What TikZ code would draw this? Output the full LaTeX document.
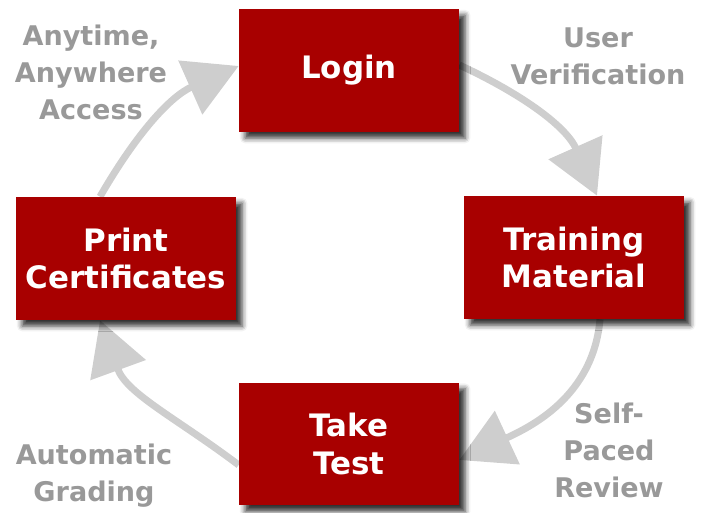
\documentclass[tikz,border=0pt]{standalone}
\usepackage{fontspec}
\setmainfont{DejaVu Sans}
\usetikzlibrary{arrows.meta,shadows.blur,backgrounds}
\definecolor{boxred}{RGB}{168,0,0}
\definecolor{arrowgray}{RGB}{206,206,206}
\definecolor{labelgray}{RGB}{153,153,153}

\begin{document}
\begin{tikzpicture}[x=0.02cm,y=0.02cm,
		box/.style={rectangle,fill=boxred,text=white,minimum width=4.4cm,minimum height=2.46cm,align=center,
			font=\fontsize{17.6}{21.6}\selectfont\bfseries,
			blur shadow={shadow xshift=3.5pt,shadow yshift=-3.5pt,shadow blur radius=3pt,shadow opacity=80}},
		lbl/.style={text=labelgray,align=center,font=\fontsize{15.4}{21}\selectfont\bfseries},
		flow/.style={draw=arrowgray,line width=4pt,-{Triangle[length=1.06cm,width=1.15cm]}}]
			\useasboundingbox (0,0) rectangle (701,513);

			% the four steps
			\node[box] (login) at (349,442.5) {Login};
			\node[box] (train) at (574,255.5) {Training\\Material};
			\node[box] (test) at (349,69) {Take\\Test};
			\node[box] (print) at (126,254.5) {Print\\Certificates};

			% arrows round the cycle
			\begin{scope}[on background layer]
				\draw[flow] ([xshift=-0.52cm]print.north) to[out=60,in=204] ([yshift=0.09cm]login.west);
				\draw[flow] ([yshift=0.11cm]login.east) to[out=-25,in=114] ([xshift=0.46cm]train.north);
				\draw[flow] ([xshift=0.52cm]train.south) to[out=-95,in=25] ([yshift=-0.32cm]test.east);
				\draw[flow] ([yshift=-0.42cm]test.west) to[out=143,in=290] ([xshift=-0.52cm]print.south);
			\end{scope}

			% labels
			\node[lbl] (anytime) at (91,440.5) {Anytime,\\Anywhere\\Access};
			\node[lbl] (userver) at (598,457) {User\\Verification};
			\node[lbl] (selfpaced) at (609,62.5) {Self-\\Paced\\Review};
			\node[lbl] (autograde) at (94,37.5) {Automatic\\Grading};
		\end{tikzpicture}
\end{document}
